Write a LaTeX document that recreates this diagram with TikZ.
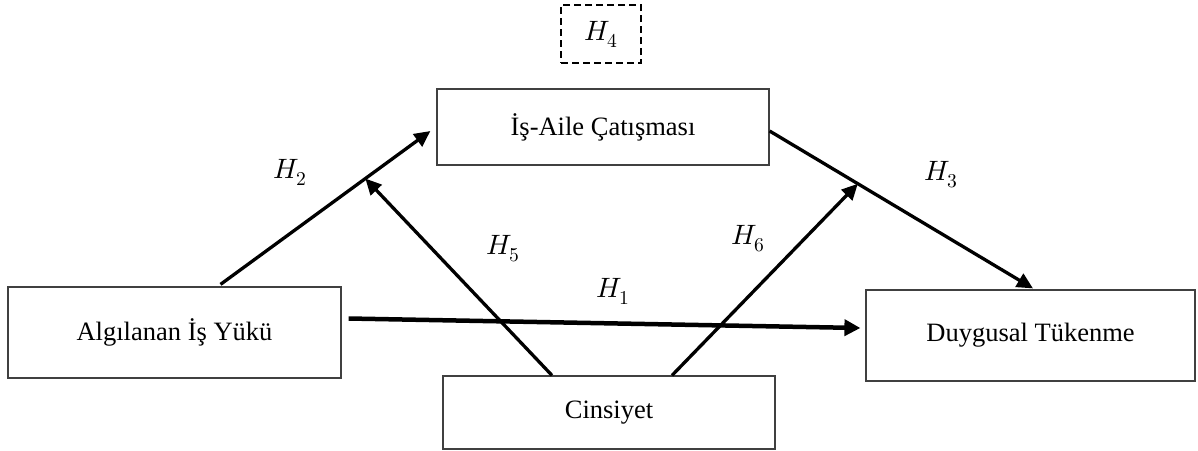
\documentclass[tikz,border=0pt]{standalone}
\usepackage{fontspec}
\usepackage{unicode-math}
\setmainfont{Liberation Serif}
\setmathfont{Latin Modern Math}
\usetikzlibrary{arrows.meta,calc}
\begin{document}
\begin{tikzpicture}[x=1pt,y=-1pt,
  box/.style={draw=black!75, line width=1.2pt, inner sep=0pt, font=\fontsize{26.5}{30}\selectfont},
  hypbox/.style={draw=black, line width=2pt, dash pattern=on 7pt off 4pt, inner sep=0pt, font=\fontsize{28}{32}\selectfont},
  lab/.style={inner sep=0pt, font=\fontsize{28}{32}\selectfont},
  arr/.style={line width=3.3pt, -{Triangle[length=16pt,width=15pt]}},
  thickarr/.style={line width=4.5pt, -{Triangle[length=16pt,width=16pt]}}]
\useasboundingbox (0,0) rectangle (1198,450);
\fill[white] (0,0) rectangle (1198,450);
% boxes
\node[hypbox, minimum width=80pt, minimum height=58pt] (H4) at (601,34) {$H_4$};
\node[box, minimum width=332pt, minimum height=76pt] (IA) at (603,127) {İş-Aile Çatışması};
\node[box, minimum width=333pt, minimum height=91pt] (AIY) at (174.5,332.5) {Algılanan İş Yükü};
\node[box, minimum width=332pt, minimum height=73pt] (C) at (609,412.5) {Cinsiyet};
\node[box, minimum width=329pt, minimum height=91pt] (DT) at (1030.5,335.5) {Duygusal Tükenme};
% anchor coordinates
\coordinate (a2s) at ($(AIY.north)+(46,-2)$);
\coordinate (a2e) at ($(IA.west)+(-6,4)$);
\coordinate (a3s) at ($(IA.east)+(0,4)$);
\coordinate (a3e) at ($(DT.north)+(2.5,-1)$);
\coordinate (m5) at ($(a2s)!0.69!(a2e)$);
\coordinate (m6) at ($(a3s)!0.335!(a3e)$);
\coordinate (c5) at ($(C.north)+(-57,0)$);
\coordinate (c6) at ($(C.north)+(63,0)$);
\coordinate (a1s) at ($(AIY.east)+(7,-14)$);
\coordinate (a1e) at ($(DT.west)+(-5,-7.5)$);
% connectors
\draw[arr] (a2s) -- (a2e);
\draw[arr] (a3s) -- (a3e);
\draw[arr] (c5) -- (m5);
\draw[arr] (c6) -- (m6);
\draw[thickarr] (a1s) -- (a1e);
% labels
\node[lab] (l2) at (290,172) {$H_2$};
\node[lab] (l5) at (503,249) {$H_5$};
\node[lab] (l6) at (748,239) {$H_6$};
\node[lab] (l3) at (941,175) {$H_3$};
\node[lab] (l1) at (613,291) {$H_1$};
\end{tikzpicture}
\end{document}
